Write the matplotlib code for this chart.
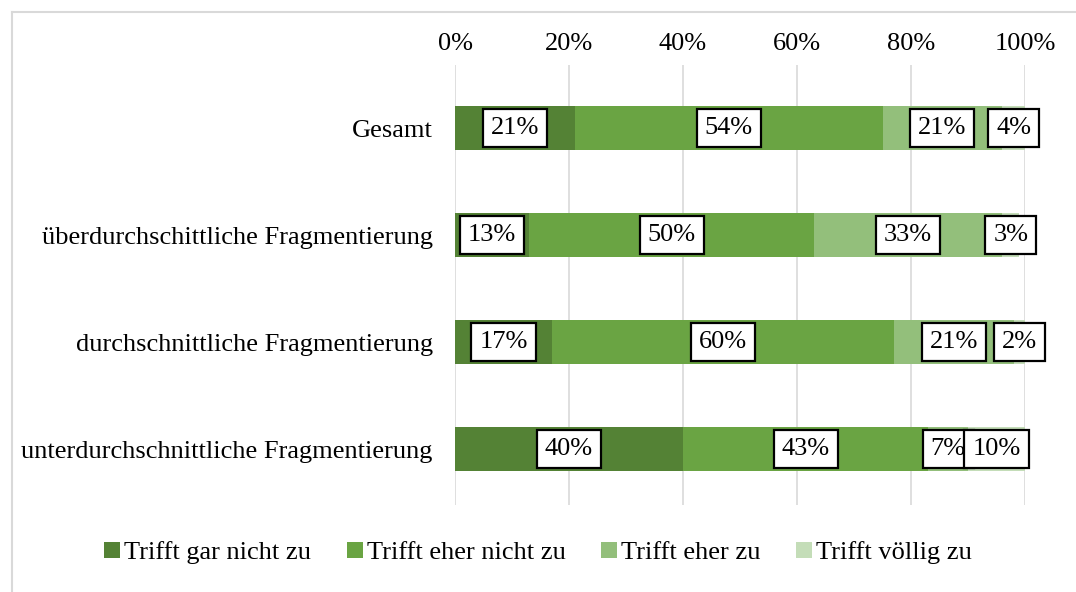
import numpy as np
import matplotlib.pyplot as plt
from matplotlib.lines import Line2D

# Daten
kategorien = ['Gesamt', 'überdurchschittliche Fragmentierung',
              'durchschnittliche Fragmentierung', 'unterdurchschnittliche Fragmentierung']
gar_nicht = [21, 13, 17, 40]
eher_nicht = [54, 50, 60, 43]
eher = [21, 33, 21, 7]
voellig = [4, 3, 2, 10]

serien = [gar_nicht, eher_nicht, eher, voellig]
namen = ['Trifft gar nicht zu', 'Trifft eher nicht zu', 'Trifft eher zu', 'Trifft völlig zu']
farben = ['#548235', '#6aa443', '#93bf7b', '#c4ddb8']

plt.rcParams['font.family'] = ['Liberation Serif', 'DejaVu Serif']
fs = 19

fig = plt.figure(figsize=(10.76, 5.92), dpi=100)
ax = fig.add_axes([0.4229, 0.147, 0.5297, 0.743])

y = np.arange(len(kategorien))
links = np.zeros(len(kategorien))
for werte, name, farbe in zip(serien, namen, farben):
    werte = np.array(werte, dtype=float)
    ax.barh(y, werte, left=links, height=0.41, color=farbe, label=name, zorder=2)
    for yi, l, w in zip(y, links, werte):
        ax.text(l + w / 2, yi, '%d%%' % w, ha='center', va='center', fontsize=fs,
                bbox=dict(boxstyle='square,pad=0.3', fc='white', ec='black', lw=1.6), zorder=4)
    links = links + werte

ax.set_xlim(0, 100)
ax.set_ylim(3.52, -0.59)
ax.set_xticks([0, 20, 40, 60, 80, 100])
ax.set_xticklabels(['0%', '20%', '40%', '60%', '80%', '100%'], fontsize=fs)
ax.xaxis.tick_top()
ax.set_yticks(y)
ax.set_yticklabels(kategorien, fontsize=fs)
ax.tick_params(axis='y', length=0, pad=16)
ax.tick_params(axis='x', length=0, pad=7)
ax.grid(axis='x', color='#d9d9d9', lw=1.2, zorder=0)
for s in ax.spines.values():
    s.set_visible(False)

fig.legend(loc='center', bbox_to_anchor=(0.5, 0.066), ncol=4, frameon=False, fontsize=fs,
           handlelength=0.6, handleheight=0.6, handletextpad=0.15, columnspacing=1.35)

# Rahmen des Diagrammbereichs
fig.add_artist(Line2D([12 / 1076, 1], [1 - 12 / 592, 1 - 12 / 592], color='#d9d9d9', lw=1.5))
fig.add_artist(Line2D([12 / 1076, 12 / 1076], [0, 1 - 12 / 592], color='#d9d9d9', lw=1.5))

fig.savefig('out.png', dpi=100, facecolor='white')
